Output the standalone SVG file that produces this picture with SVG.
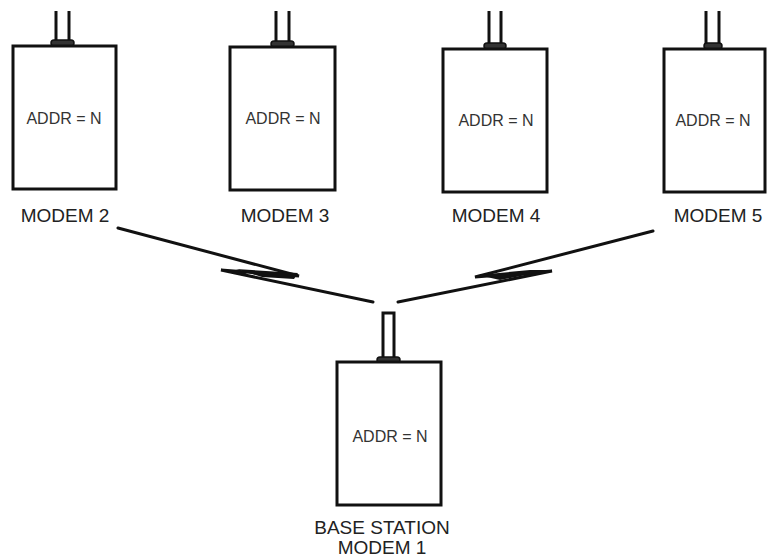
<svg xmlns="http://www.w3.org/2000/svg" width="767" height="559" viewBox="0 0 767 559">
<style>
.box{fill:#fff;stroke:#111;stroke-width:3}
.ant{fill:none;stroke:#111;stroke-width:3}
.cap{fill:#333;stroke:#111;stroke-width:1.5}
.addr{font-family:"Liberation Sans",Arial,sans-serif;font-size:16px;fill:#333;text-anchor:middle}
.lbl{font-family:"Liberation Sans",Arial,sans-serif;font-size:19px;fill:#222;text-anchor:middle}
.link{fill:none;stroke:#111;stroke-width:3;stroke-linejoin:miter;stroke-linecap:round}
</style>
<rect width="767" height="559" fill="#fff"/>
<g id="modem2">
<line class="ant" x1="56" y1="11" x2="56" y2="42"/>
<line class="ant" x1="69" y1="11" x2="69" y2="42"/>
<rect class="cap" x="51" y="40" width="23" height="6" rx="3"/>
<rect class="box" x="13" y="46" width="103" height="143"/>
<text class="addr" x="64" y="124">ADDR = N</text>
<text class="lbl" x="65" y="222">MODEM 2</text>
</g>
<g id="modem3">
<line class="ant" x1="276" y1="11" x2="276" y2="42"/>
<line class="ant" x1="289" y1="11" x2="289" y2="42"/>
<rect class="cap" x="271" y="41" width="23" height="6" rx="3"/>
<rect class="box" x="230" y="47" width="105" height="143"/>
<text class="addr" x="283" y="124">ADDR = N</text>
<text class="lbl" x="285" y="222">MODEM 3</text>
</g>
<g id="modem4">
<line class="ant" x1="489" y1="11" x2="489" y2="45"/>
<line class="ant" x1="501" y1="11" x2="501" y2="45"/>
<rect class="cap" x="484" y="43" width="22" height="6" rx="3"/>
<rect class="box" x="443" y="49" width="104" height="143"/>
<text class="addr" x="496" y="126">ADDR = N</text>
<text class="lbl" x="496" y="222">MODEM 4</text>
</g>
<g id="modem5">
<line class="ant" x1="706" y1="11" x2="706" y2="45"/>
<line class="ant" x1="719" y1="11" x2="719" y2="45"/>
<rect class="cap" x="704" y="43" width="18" height="6" rx="3" fill="#666"/>
<rect class="box" x="664" y="49" width="101" height="143"/>
<text class="addr" x="713" y="126">ADDR = N</text>
<text class="lbl" x="718" y="222">MODEM 5</text>
</g>
<g id="modem1">
<rect class="ant" x="383" y="313" width="11" height="47"/>
<rect class="cap" x="377" y="357" width="23" height="6" rx="3"/>
<rect class="box" x="337" y="362" width="104" height="143"/>
<text class="addr" x="390" y="442">ADDR = N</text>
<text class="lbl" x="382" y="534">BASE STATION</text>
<text class="lbl" x="382" y="554">MODEM 1</text>
</g>
<g id="connectors">
<polyline class="link" points="118,228 299,276 221,270 373,302"/>
<polygon points="236,269 298,273 294,279 262,277" fill="#111"/>
<polyline class="link" points="653,231 475,277 552,271 398,302"/>
<polygon points="478,275 530,270 552,270 500,280" fill="#111"/>
</g>
</svg>
